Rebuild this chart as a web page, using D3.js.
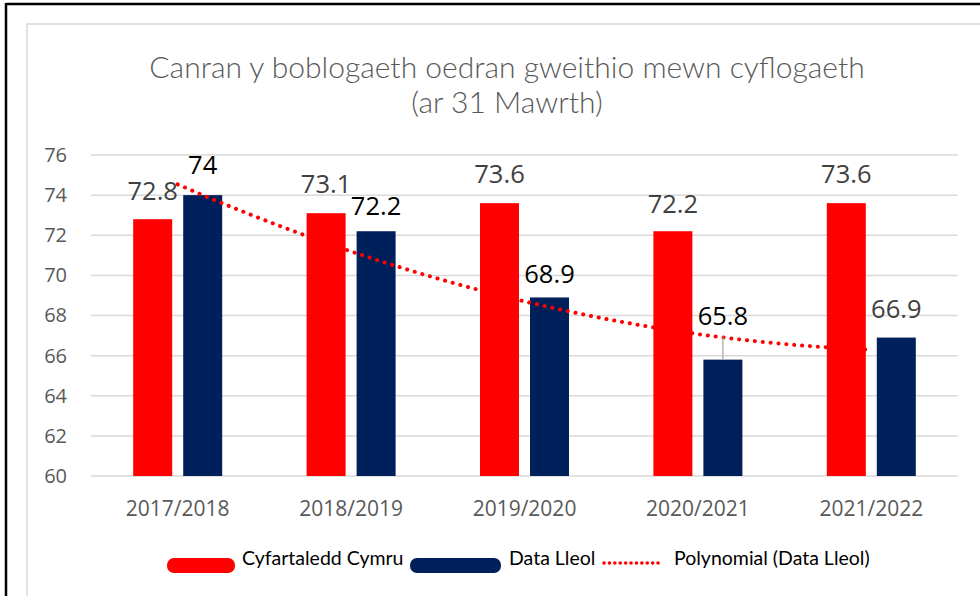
<!DOCTYPE html>
<html>
<head>
<meta charset="utf-8">
<script src="https://cdn.jsdelivr.net/npm/d3@7"></script>
<style>
  body { margin: 0; background: #fff; }
  svg { display: block; }
</style>
</head>
<body>
<div id="chart"></div>
<script>
// data
var years = ["2017/2018", "2018/2019", "2019/2020", "2020/2021", "2021/2022"];
var cymru = [72.8, 73.1, 73.6, 72.2, 73.6];
var lleol = [74, 72.2, 68.9, 65.8, 66.9];
var yTicks = [60, 62, 64, 66, 68, 70, 72, 74, 76];
var seriesNames = ["Cyfartaledd Cymru", "Data Lleol"];

// label nudges (px above bar top), kept apart from the data
var cymruLift = [19, 20, 20, 18, 20];
var lleolLift = [21, 16, 14, 35, 20];

var width = 980, height = 596;
var margin = {top: 155, right: 22, bottom: 120, left: 91},
    plotW = width - margin.left - margin.right,
    plotH = height - margin.top - margin.bottom;

var svg = d3.select("#chart").append("svg")
    .attr("width", width)
    .attr("height", height);

// outer frames
svg.append("rect").attr("x", 27).attr("y", 24)
    .attr("width", 1000).attr("height", 700)
    .attr("fill", "none").attr("stroke", "#d9d9d9").attr("stroke-width", 1.5);
svg.append("line").attr("x1", 6).attr("x2", 980).attr("y1", 4).attr("y2", 4)
    .attr("stroke", "#000").attr("stroke-width", 2.5);
svg.append("line").attr("x1", 6).attr("x2", 6).attr("y1", 3).attr("y2", 596)
    .attr("stroke", "#000").attr("stroke-width", 2.5);

// title
var title = svg.append("text")
    .attr("x", 507).attr("text-anchor", "middle")
    .style("font-family", "Lato, sans-serif")
    .style("font-weight", 300)
    .style("font-size", "30px")
    .attr("fill", "#595959");
title.append("tspan").attr("x", 507).attr("y", 78).text("Canran y boblogaeth oedran gweithio mewn cyflogaeth");
title.append("tspan").attr("x", 507).attr("y", 113).text("(ar 31 Mawrth)");

var g = svg.append("g")
    .attr("transform", "translate(" + margin.left + "," + margin.top + ")");

var y = d3.scaleLinear().domain([60, 76]).range([plotH, 0]);
var x0 = d3.scaleBand().domain(years).range([0, plotW]);
var x1 = d3.scaleBand().domain(seriesNames).range([0, x0.bandwidth()])
    .paddingInner(0.22).paddingOuter(0.844);

// grid
g.selectAll("line.grid")
    .data(yTicks)
    .enter().append("line")
    .attr("class", "grid")
    .attr("x1", 0).attr("x2", plotW)
    .attr("y1", function(d) { return y(d); })
    .attr("y2", function(d) { return y(d); })
    .attr("stroke", "#d9d9d9").attr("stroke-width", 1.5);

// y axis labels
var yAxis = g.append("g")
    .call(d3.axisLeft(y).tickValues(yTicks).tickSize(0).tickPadding(24));
yAxis.select(".domain").remove();
yAxis.selectAll("text")
    .style("font-family", "'Open Sans', sans-serif")
    .style("font-size", "20px")
    .attr("fill", "#595959");

// x axis labels
var xAxis = g.append("g")
    .attr("transform", "translate(0," + plotH + ")")
    .call(d3.axisBottom(x0).tickSize(0).tickPadding(25));
xAxis.select(".domain").remove();
xAxis.selectAll("text")
    .style("font-family", "'Open Sans', sans-serif")
    .style("font-size", "21px")
    .attr("fill", "#595959");

// bars
var rows = years.map(function(yr, i) {
    return {year: yr, i: i, vals: [
        {s: seriesNames[0], v: cymru[i], lift: cymruLift[i]},
        {s: seriesNames[1], v: lleol[i], lift: lleolLift[i]}
    ]};
});
var colors = {"Cyfartaledd Cymru": "#ff0000", "Data Lleol": "#00205b"};

var groups = g.selectAll("g.year")
    .data(rows)
    .enter().append("g")
    .attr("class", "year")
    .attr("transform", function(d) { return "translate(" + x0(d.year) + ",0)"; });

groups.selectAll("rect")
    .data(function(d) { return d.vals; })
    .enter().append("rect")
    .attr("x", function(d) { return x1(d.s); })
    .attr("width", x1.bandwidth())
    .attr("y", function(d) { return y(d.v); })
    .attr("height", function(d) { return plotH - y(d.v); })
    .attr("fill", function(d) { return colors[d.s]; });

// polynomial (order 2) trendline fitted to Data Lleol
function polyFit(ys) {
    var n = ys.length, xs = d3.range(1, n + 1);
    var xm = d3.mean(xs), ym = d3.mean(ys);
    var p1 = xs.map(function(x) { return x - xm; });
    var q = d3.mean(p1.map(function(p) { return p * p; }));
    var p2 = p1.map(function(p) { return p * p - q; });
    var b1 = d3.sum(p1, function(p, i) { return p * ys[i]; }) / d3.sum(p1, function(p) { return p * p; });
    var b2 = d3.sum(p2, function(p, i) { return p * ys[i]; }) / d3.sum(p2, function(p) { return p * p; });
    return function(x) { var p = x - xm; return ym + b1 * p + b2 * (p * p - q); };
}
var trend = polyFit(lleol);
var trendPts = d3.range(0, 4.001, 0.05).map(function(t) {
    return [x0(years[0]) + x0.bandwidth() / 2 + t * x0.step(), y(trend(t + 1))];
});
g.append("path")
    .attr("d", d3.line()(trendPts))
    .attr("fill", "none")
    .attr("stroke", "#ff0000")
    .attr("stroke-width", 4)
    .attr("stroke-linecap", "round")
    .attr("stroke-dasharray", "0.1 7.8");

// leader line for the lifted 65.8 label
var lx = x0(years[3]) + x1(seriesNames[1]) + x1.bandwidth() / 2;
g.append("line")
    .attr("x1", lx).attr("x2", lx)
    .attr("y1", y(lleol[3]) - lleolLift[3] + 12)
    .attr("y2", y(lleol[3]))
    .attr("stroke", "#a6a6a6").attr("stroke-width", 1.2);

// value labels
groups.selectAll("text.val")
    .data(function(d) { return d.vals.map(function(v) { return Object.assign({i: d.i}, v); }); })
    .enter().append("text")
    .attr("class", "val")
    .attr("x", function(d) { return x1(d.s) + x1.bandwidth() / 2; })
    .attr("y", function(d) { return y(d.v) - d.lift; })
    .attr("text-anchor", "middle")
    .style("font-family", "'Open Sans', sans-serif")
    .style("font-size", "25.5px")
    .attr("fill", function(d) {
        return (d.s === seriesNames[0] || d.i === 4) ? "#404040" : "#000";
    })
    .text(function(d) { return d.v; });

// legend
var leg = svg.append("g").style("font-family", "Lato, sans-serif").style("font-size", "19.5px");
leg.append("rect").attr("x", 167).attr("y", 558).attr("width", 68).attr("height", 15)
    .attr("rx", 7).attr("fill", colors[seriesNames[0]]);
leg.append("text").attr("x", 242).attr("y", 565).text(seriesNames[0]);
leg.append("rect").attr("x", 410).attr("y", 558).attr("width", 91).attr("height", 15)
    .attr("rx", 7).attr("fill", colors[seriesNames[1]]);
leg.append("text").attr("x", 509).attr("y", 565).text(seriesNames[1]);
leg.append("line").attr("x1", 604).attr("x2", 660).attr("y1", 563).attr("y2", 563)
    .attr("stroke", "#ff0000").attr("stroke-width", 3.5)
    .attr("stroke-linecap", "round").attr("stroke-dasharray", "0.1 5.3");
leg.append("text").attr("x", 674).attr("y", 565).text("Polynomial (Data Lleol)");
</script>
</body>
</html>
